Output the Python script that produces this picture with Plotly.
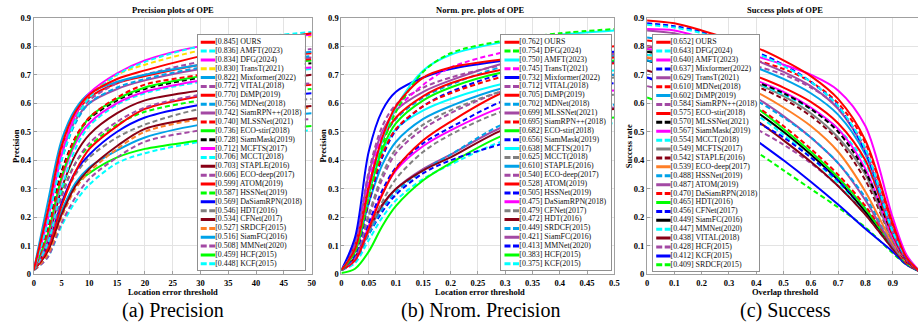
import plotly.graph_objects as go

# ---------------- (a) Precision plots ----------------
PREC_X = [0, 2.5, 5, 7.5, 10, 15, 20, 30, 40, 50]
PREC_NAMES = ["OURS", "AMFT(2023)", "DFG(2024)", "TransT(2021)", "Mixformer(2022)", "VITAL(2018)",
              "DiMP(2019)", "MDNet(2018)", "SiamRPN++(2018)", "MLSSNet(2021)", "ECO-stir(2018)",
              "SiamMask(2019)", "MCFTS(2017)", "MCCT(2018)", "STAPLE(2016)", "ECO-deep(2017)",
              "ATOM(2019)", "HSSNet(2019)", "DaSiamRPN(2018)", "HDT(2016)", "CFNet(2017)",
              "SRDCF(2015)", "SiamFC(2016)", "MMNet(2020)", "HCF(2015)", "KCF(2015)"]
PREC_SCORES = [0.845, 0.836, 0.834, 0.830, 0.822, 0.772, 0.770, 0.756, 0.742, 0.740, 0.736, 0.728,
               0.712, 0.706, 0.703, 0.606, 0.599, 0.587, 0.569, 0.546, 0.534, 0.527, 0.516, 0.508,
               0.459, 0.448]
PREC_CURVES = [
    [0.015, 0.22, 0.45, 0.57, 0.63, 0.685, 0.715, 0.765, 0.81, 0.845],
    [0.015, 0.18, 0.40, 0.54, 0.62, 0.70, 0.745, 0.80, 0.83, 0.85],
    [0.015, 0.19, 0.42, 0.56, 0.635, 0.705, 0.75, 0.80, 0.825, 0.84],
    [0.015, 0.20, 0.43, 0.56, 0.63, 0.70, 0.735, 0.785, 0.815, 0.835],
    [0.015, 0.25, 0.47, 0.58, 0.635, 0.675, 0.70, 0.735, 0.76, 0.78],
    [0.015, 0.20, 0.43, 0.55, 0.61, 0.67, 0.70, 0.745, 0.77, 0.79],
    [0.015, 0.21, 0.44, 0.56, 0.62, 0.67, 0.695, 0.735, 0.76, 0.775],
    [0.015, 0.18, 0.40, 0.53, 0.60, 0.655, 0.685, 0.725, 0.75, 0.765],
    [0.015, 0.20, 0.42, 0.54, 0.60, 0.65, 0.68, 0.72, 0.745, 0.76],
    [0.015, 0.15, 0.35, 0.48, 0.55, 0.62, 0.665, 0.70, 0.735, 0.755],
    [0.015, 0.14, 0.34, 0.47, 0.55, 0.615, 0.655, 0.695, 0.73, 0.75],
    [0.015, 0.16, 0.36, 0.48, 0.545, 0.61, 0.65, 0.69, 0.72, 0.74],
    [0.015, 0.13, 0.33, 0.46, 0.53, 0.60, 0.64, 0.68, 0.71, 0.725],
    [0.015, 0.11, 0.30, 0.44, 0.52, 0.595, 0.635, 0.675, 0.70, 0.72],
    [0.015, 0.12, 0.30, 0.42, 0.49, 0.565, 0.61, 0.645, 0.675, 0.70],
    [0.015, 0.10, 0.27, 0.39, 0.46, 0.535, 0.585, 0.63, 0.655, 0.67],
    [0.015, 0.09, 0.24, 0.36, 0.44, 0.52, 0.58, 0.625, 0.65, 0.665],
    [0.015, 0.11, 0.28, 0.39, 0.45, 0.525, 0.57, 0.61, 0.635, 0.65],
    [0.015, 0.10, 0.25, 0.36, 0.42, 0.50, 0.55, 0.595, 0.62, 0.635],
    [0.015, 0.10, 0.25, 0.35, 0.41, 0.48, 0.525, 0.58, 0.60, 0.615],
    [0.015, 0.08, 0.21, 0.31, 0.37, 0.45, 0.51, 0.55, 0.575, 0.59],
    [0.015, 0.07, 0.20, 0.30, 0.36, 0.44, 0.50, 0.545, 0.57, 0.585],
    [0.015, 0.09, 0.22, 0.32, 0.375, 0.435, 0.48, 0.525, 0.55, 0.565],
    [0.015, 0.06, 0.18, 0.27, 0.335, 0.41, 0.465, 0.505, 0.53, 0.545],
    [0.015, 0.09, 0.22, 0.315, 0.355, 0.41, 0.44, 0.47, 0.50, 0.52],
    [0.015, 0.06, 0.17, 0.255, 0.315, 0.39, 0.425, 0.465, 0.49, 0.505],
]
PREC_XTICKS = [0, 5, 10, 15, 20, 25, 30, 35, 40, 45, 50]
PREC_XTICKTEXT = ["0", "5", "10", "15", "20", "25", "30", "35", "40", "45", "50"]

# ---------------- (b) Norm. precision plots ----------------
NPRE_X = [0, 0.025, 0.05, 0.075, 0.1, 0.15, 0.2, 0.3, 0.4, 0.5]
NPRE_NAMES = ["OURS", "DFG(2024)", "AMFT(2023)", "TransT(2021)", "Mixformer(2022)", "VITAL(2018)",
              "DiMP(2019)", "MDNet(2018)", "MLSSNet(2021)", "SiamRPN++(2018)", "ECO-stir(2018)",
              "SiamMask(2019)", "MCFTS(2017)", "MCCT(2018)", "STAPLE(2016)", "ECO-deep(2017)",
              "ATOM(2019)", "HSSNet(2019)", "DaSiamRPN(2018)", "CFNet(2017)", "HDT(2016)",
              "SRDCF(2015)", "SiamFC(2016)", "MMNet(2020)", "HCF(2015)", "KCF(2015)"]
NPRE_SCORES = [0.762, 0.754, 0.750, 0.745, 0.732, 0.712, 0.705, 0.702, 0.699, 0.695, 0.682, 0.656,
               0.638, 0.625, 0.610, 0.540, 0.528, 0.505, 0.475, 0.479, 0.472, 0.449, 0.421, 0.413,
               0.383, 0.375]
NPRE_CURVES = [
    [0.015, 0.09, 0.30, 0.48, 0.59, 0.69, 0.725, 0.755, 0.78, 0.80],
    [0.015, 0.08, 0.27, 0.45, 0.57, 0.71, 0.775, 0.82, 0.845, 0.86],
    [0.015, 0.09, 0.29, 0.47, 0.585, 0.715, 0.77, 0.815, 0.84, 0.855],
    [0.015, 0.09, 0.32, 0.49, 0.575, 0.665, 0.725, 0.78, 0.81, 0.83],
    [0.015, 0.13, 0.43, 0.575, 0.64, 0.69, 0.72, 0.75, 0.77, 0.78],
    [0.015, 0.11, 0.36, 0.52, 0.595, 0.655, 0.69, 0.735, 0.76, 0.775],
    [0.015, 0.10, 0.31, 0.47, 0.55, 0.625, 0.67, 0.72, 0.745, 0.76],
    [0.015, 0.10, 0.32, 0.47, 0.545, 0.62, 0.665, 0.73, 0.755, 0.765],
    [0.015, 0.11, 0.35, 0.50, 0.575, 0.64, 0.68, 0.74, 0.76, 0.77],
    [0.015, 0.08, 0.26, 0.42, 0.51, 0.59, 0.635, 0.695, 0.725, 0.74],
    [0.015, 0.08, 0.28, 0.44, 0.53, 0.61, 0.655, 0.71, 0.735, 0.75],
    [0.015, 0.07, 0.25, 0.41, 0.505, 0.59, 0.64, 0.705, 0.73, 0.745],
    [0.015, 0.09, 0.29, 0.43, 0.51, 0.575, 0.615, 0.67, 0.70, 0.715],
    [0.015, 0.07, 0.21, 0.35, 0.44, 0.525, 0.575, 0.645, 0.675, 0.69],
    [0.015, 0.08, 0.25, 0.385, 0.465, 0.545, 0.59, 0.655, 0.685, 0.70],
    [0.015, 0.06, 0.20, 0.335, 0.425, 0.51, 0.565, 0.645, 0.675, 0.69],
    [0.015, 0.05, 0.16, 0.28, 0.37, 0.47, 0.535, 0.64, 0.68, 0.70],
    [0.015, 0.06, 0.18, 0.295, 0.375, 0.46, 0.515, 0.61, 0.65, 0.67],
    [0.015, 0.05, 0.17, 0.285, 0.365, 0.45, 0.505, 0.59, 0.63, 0.645],
    [0.015, 0.05, 0.15, 0.255, 0.335, 0.43, 0.49, 0.575, 0.615, 0.63],
    [0.015, 0.06, 0.16, 0.245, 0.30, 0.365, 0.41, 0.51, 0.56, 0.58],
    [0.015, 0.05, 0.14, 0.23, 0.29, 0.365, 0.42, 0.53, 0.575, 0.595],
    [0.015, 0.05, 0.15, 0.24, 0.30, 0.37, 0.42, 0.52, 0.565, 0.585],
    [0.015, 0.05, 0.14, 0.22, 0.28, 0.355, 0.40, 0.46, 0.50, 0.52],
    [0.005, 0.02, 0.08, 0.17, 0.24, 0.33, 0.39, 0.49, 0.53, 0.55],
    [0.015, 0.04, 0.12, 0.20, 0.26, 0.335, 0.385, 0.47, 0.51, 0.53],
]
NPRE_XTICKS = [0, 0.05, 0.1, 0.15, 0.2, 0.25, 0.3, 0.35, 0.4, 0.45, 0.5]
NPRE_XTICKTEXT = ["0", "0.05", "0.1", "0.15", "0.2", "0.25", "0.3", "0.35", "0.4", "0.45", "0.5"]

# ---------------- (c) Success plots ----------------
SUCC_X = [0, 0.1, 0.2, 0.3, 0.4, 0.5, 0.6, 0.7, 0.8, 0.9, 0.95, 1.0]
SUCC_NAMES = ["OURS", "DFG(2024)", "AMFT(2023)", "Mixformer(2022)", "TransT(2021)", "MDNet(2018)",
              "DiMP(2019)", "SiamRPN++(2018)", "ECO-stir(2018)", "MLSSNet(2021)", "SiamMask(2019)",
              "MCCT(2018)", "MCFTS(2017)", "STAPLE(2016)", "ECO-deep(2017)", "HSSNet(2019)",
              "ATOM(2019)", "DaSiamRPN(2018)", "HDT(2016)", "CFNet(2017)", "SiamFC(2016)",
              "MMNet(2020)", "VITAL(2018)", "HCF(2015)", "KCF(2015)", "SRDCF(2015)"]
SUCC_SCORES = [0.652, 0.643, 0.640, 0.637, 0.629, 0.610, 0.602, 0.584, 0.575, 0.570, 0.567, 0.554,
               0.549, 0.542, 0.539, 0.488, 0.487, 0.470, 0.465, 0.456, 0.449, 0.447, 0.438, 0.428,
               0.412, 0.409]
SUCC_CURVES = [
    [0.89, 0.88, 0.855, 0.825, 0.795, 0.75, 0.695, 0.615, 0.47, 0.18, 0.06, 0.01],
    [0.875, 0.865, 0.845, 0.81, 0.775, 0.73, 0.675, 0.59, 0.44, 0.15, 0.06, 0.01],
    [0.86, 0.855, 0.83, 0.80, 0.765, 0.735, 0.70, 0.645, 0.52, 0.20, 0.07, 0.01],
    [0.88, 0.87, 0.85, 0.815, 0.78, 0.735, 0.675, 0.59, 0.43, 0.15, 0.055, 0.01],
    [0.855, 0.845, 0.82, 0.79, 0.75, 0.71, 0.66, 0.58, 0.43, 0.15, 0.055, 0.01],
    [0.82, 0.81, 0.795, 0.775, 0.75, 0.72, 0.675, 0.60, 0.46, 0.17, 0.06, 0.01],
    [0.83, 0.815, 0.79, 0.76, 0.725, 0.685, 0.635, 0.56, 0.42, 0.15, 0.055, 0.01],
    [0.80, 0.79, 0.775, 0.755, 0.73, 0.70, 0.655, 0.585, 0.44, 0.16, 0.06, 0.01],
    [0.80, 0.785, 0.76, 0.73, 0.695, 0.655, 0.605, 0.53, 0.40, 0.14, 0.05, 0.01],
    [0.78, 0.765, 0.74, 0.71, 0.675, 0.635, 0.58, 0.50, 0.36, 0.14, 0.05, 0.01],
    [0.79, 0.775, 0.75, 0.72, 0.68, 0.64, 0.585, 0.51, 0.37, 0.13, 0.05, 0.01],
    [0.77, 0.755, 0.735, 0.705, 0.67, 0.63, 0.58, 0.51, 0.39, 0.14, 0.05, 0.01],
    [0.78, 0.765, 0.74, 0.71, 0.67, 0.625, 0.565, 0.48, 0.35, 0.12, 0.05, 0.01],
    [0.77, 0.755, 0.73, 0.70, 0.66, 0.615, 0.555, 0.47, 0.33, 0.12, 0.045, 0.01],
    [0.76, 0.745, 0.72, 0.685, 0.64, 0.585, 0.52, 0.43, 0.29, 0.11, 0.045, 0.01],
    [0.75, 0.73, 0.70, 0.66, 0.61, 0.55, 0.48, 0.39, 0.27, 0.11, 0.045, 0.01],
    [0.80, 0.77, 0.73, 0.68, 0.62, 0.555, 0.48, 0.39, 0.26, 0.10, 0.045, 0.01],
    [0.76, 0.735, 0.70, 0.65, 0.59, 0.52, 0.44, 0.35, 0.24, 0.10, 0.04, 0.01],
    [0.79, 0.755, 0.705, 0.65, 0.585, 0.51, 0.43, 0.34, 0.23, 0.10, 0.04, 0.01],
    [0.69, 0.665, 0.63, 0.585, 0.535, 0.48, 0.41, 0.33, 0.23, 0.10, 0.04, 0.01],
    [0.75, 0.72, 0.68, 0.63, 0.57, 0.50, 0.42, 0.33, 0.22, 0.10, 0.04, 0.01],
    [0.75, 0.72, 0.675, 0.62, 0.56, 0.49, 0.41, 0.32, 0.22, 0.10, 0.04, 0.01],
    [0.715, 0.685, 0.645, 0.595, 0.54, 0.47, 0.395, 0.31, 0.21, 0.09, 0.04, 0.01],
    [0.66, 0.635, 0.60, 0.56, 0.51, 0.455, 0.39, 0.31, 0.21, 0.09, 0.04, 0.01],
    [0.69, 0.65, 0.60, 0.54, 0.47, 0.40, 0.325, 0.245, 0.16, 0.08, 0.035, 0.01],
    [0.62, 0.585, 0.54, 0.49, 0.43, 0.365, 0.30, 0.235, 0.165, 0.075, 0.035, 0.01],
]
SUCC_XTICKS = [0, 0.1, 0.2, 0.3, 0.4, 0.5, 0.6, 0.7, 0.8, 0.9, 1.0]
SUCC_XTICKTEXT = ["0", "0.1", "0.2", "0.3", "0.4", "0.5", "0.6", "0.7", "0.8", "0.9", "1"]

Y_TICKS = [0, 0.1, 0.2, 0.3, 0.4, 0.5, 0.6, 0.7, 0.8, 0.9]
Y_TICKTEXT = ["0", "0.1", "0.2", "0.3", "0.4", "0.5", "0.6", "0.7", "0.8", "0.9"]

# ---------------- styles (kept separate from data) ----------------
PREC_STYLE = ["r-", "c--", "m-", "y--", "lb-", "p--", "r-", "lb--", "p-", "r--", "g-", "k--", "m-",
              "c--", "dr-", "p--", "r-", "g--", "b-", "gr--", "dr-", "o--", "lb-", "p--", "g-", "c--"]
NPRE_STYLE = ["r-", "g--", "c-", "m--", "b-", "p--", "r-", "lb--", "p-", "r--", "g-", "b--", "c-",
              "gr--", "lb-", "p--", "r-", "b--", "m-", "gr--", "dr-", "lb--", "p-", "b--", "g-", "c--"]
SUCC_STYLE = ["r-", "c--", "m-", "b--", "p-", "r--", "lb-", "p--", "r-", "k--", "m-", "c--", "gr-",
              "dr--", "o-", "lb--", "p-", "r--", "g-", "b--", "k-", "c--", "dr-", "p--", "b-", "g--"]
COLOR = {"r": "#FF0000", "g": "#00FF00", "b": "#0000FF", "k": "#000000", "m": "#FF00FF",
         "c": "#00FFFF", "y": "#FFE000", "dr": "#880015", "o": "#FF7F27", "lb": "#00A2E8",
         "p": "#A349A4", "gr": "#808080"}

W, H = 923, 326
SERIF = "Liberation Serif, Times New Roman, serif"


def fx(p):
    return p / W


def fy(p):
    return 1 - p / H


def parse(style):
    dashed = style.endswith("--")
    return COLOR[style.rstrip("-")], dashed


PANELS = [
    dict(x=PREC_X, curves=PREC_CURVES, names=PREC_NAMES, scores=PREC_SCORES, styles=PREC_STYLE,
         px=(32, 312), xrange=[0, 50], xt=PREC_XTICKS, xtt=PREC_XTICKTEXT,
         leg=(197, 305, 31, 273), title="Precision plots of OPE", xtitle="Location error threshold",
         ytitle="Precision", ytx=14, caption="(a) Precision", ymirror=True, cx=172),
    dict(x=NPRE_X, curves=NPRE_CURVES, names=NPRE_NAMES, scores=NPRE_SCORES, styles=NPRE_STYLE,
         px=(342, 617), xrange=[0, 0.5], xt=NPRE_XTICKS, xtt=NPRE_XTICKTEXT,
         leg=(503, 614, 31, 273), title="Norm. pre. plots of OPE", xtitle="Location error threshold",
         ytitle="Precision", ytx=323, caption="(b) Nrom. Precision", ymirror=True, cx=482),
    dict(x=SUCC_X, curves=SUCC_CURVES, names=SUCC_NAMES, scores=SUCC_SCORES, styles=SUCC_STYLE,
         px=(650, 923), xrange=[0, 273 / 275], xt=SUCC_XTICKS, xtt=SUCC_XTICKTEXT,
         leg=(656, 763, 31, 274), title="Success plots of OPE", xtitle="Overlap threshold",
         ytitle="Success rate", ytx=632, caption="(c) Success", ymirror=False, cx=789),
]

PLOT_TOP, PLOT_BOT = 13, 278

fig = go.Figure()
layout = dict(width=W, height=H, margin=dict(l=0, r=0, t=0, b=0), showlegend=False,
              plot_bgcolor="white", paper_bgcolor="white", annotations=[], shapes=[])

tickfont = dict(family=SERIF, size=8.5, color="black", weight="bold")
labfont = dict(family=SERIF, size=8.5, color="black", weight="bold")

for i, P in enumerate(PANELS):
    k = i + 1
    xa, ya = ("x" if k == 1 else f"x{k}"), ("y" if k == 1 else f"y{k}")
    lk = k + 3
    lxa, lya = f"x{lk}", f"y{lk}"
    n = len(P["names"])

    # main curves (drawn reversed so the top-ranked tracker is on top)
    for j in reversed(range(n)):
        col, dashed = parse(P["styles"][j])
        fig.add_trace(go.Scatter(
            x=P["x"], y=P["curves"][j], mode="lines", xaxis=xa, yaxis=ya,
            line=dict(color=col, width=2, shape="spline", smoothing=0.9,
                      dash="5px,3px" if dashed else "solid"),
            name=P["names"][j], hoverinfo="skip"))

    # legend rows in their own small inset subplot
    rows = list(range(1, n + 1))
    for j in range(n):
        col, dashed = parse(P["styles"][j])
        fig.add_trace(go.Scatter(
            x=[0.03, 0.165], y=[rows[j], rows[j]], mode="lines", xaxis=lxa, yaxis=lya,
            line=dict(color=col, width=3, dash="6px,2.5px" if dashed else "solid"),
            hoverinfo="skip"))
    fig.add_trace(go.Scatter(
        x=[0.165] * n, y=rows, mode="text", xaxis=lxa, yaxis=lya,
        text=[f"[{s:.3f}] {nm}" for s, nm in zip(P["scores"], P["names"])],
        textposition="middle right", textfont=dict(family=SERIF, size=7.9, color="#111"),
        hoverinfo="skip"))
    # opaque legend background
    layout["shapes"].append(dict(type="rect", xref=lxa, yref=lya, x0=0, x1=1, y0=0.2,
                                 y1=n + 0.65, fillcolor="white", line=dict(width=0),
                                 layer="below"))

    x0, x1 = P["px"]
    layout[("xaxis" if k == 1 else f"xaxis{k}")] = dict(
        domain=[fx(x0), fx(x1)], range=P["xrange"], autorange=False, anchor=ya,
        tickvals=P["xt"], ticktext=P["xtt"],
        showgrid=True, gridcolor="#E3E3E3", gridwidth=1, zeroline=False, showline=True,
        mirror=True, linecolor="#A0A0A0", linewidth=1, ticks="inside", ticklen=3,
        tickcolor="#A0A0A0", tickfont=tickfont, fixedrange=True)
    layout[("yaxis" if k == 1 else f"yaxis{k}")] = dict(
        domain=[fy(PLOT_BOT), fy(PLOT_TOP)], range=[0, 0.9], autorange=False, anchor=xa,
        tickvals=Y_TICKS, ticktext=Y_TICKTEXT, showgrid=True, gridcolor="#E3E3E3", gridwidth=1,
        zeroline=False, showline=True, mirror=P["ymirror"], linecolor="#A0A0A0", linewidth=1,
        ticks="inside", ticklen=3, tickcolor="#A0A0A0", tickfont=tickfont, fixedrange=True)

    lx0, lx1, ly0, ly1 = P["leg"]
    layout[f"xaxis{lk}"] = dict(domain=[fx(lx0), fx(lx1)], range=[0, 1], autorange=False,
                                anchor=lya, showgrid=False, zeroline=False, showticklabels=False,
                                showline=True, mirror=True, linecolor="#909090", linewidth=1,
                                ticks="", fixedrange=True)
    layout[f"yaxis{lk}"] = dict(domain=[fy(ly1), fy(ly0)], range=[n + 0.65, 0.2],
                                autorange=False, anchor=lxa,
                                showgrid=False, zeroline=False, showticklabels=False,
                                showline=True, mirror=True, linecolor="#909090", linewidth=1,
                                ticks="", fixedrange=True)

    cx = P["cx"]
    layout["annotations"] += [
        dict(text=P["title"], x=fx(cx), y=fy(5), xref="paper", yref="paper", showarrow=False,
             xanchor="center", yanchor="middle", font=labfont),
        dict(text=P["xtitle"], x=fx(cx), y=fy(296), xref="paper", yref="paper", showarrow=False,
             xanchor="center", yanchor="middle", font=labfont),
        dict(text=P["ytitle"], x=fx(P["ytx"]), y=fy((PLOT_TOP + PLOT_BOT) / 2), xref="paper",
             yref="paper", showarrow=False, xanchor="center", yanchor="middle", textangle=-90,
             font=labfont),
        dict(text=P["caption"], x=fx(cx), y=fy(315), xref="paper", yref="paper", showarrow=False,
             xanchor="center", yanchor="middle",
             font=dict(family=SERIF, size=20, color="black")),
    ]

fig.update_layout(**layout)
fig.write_html("out.html", config={"displayModeBar": False},
               post_script="document.body.style.margin='0';document.body.style.padding='0';"
                           "document.body.style.overflow='hidden';")
